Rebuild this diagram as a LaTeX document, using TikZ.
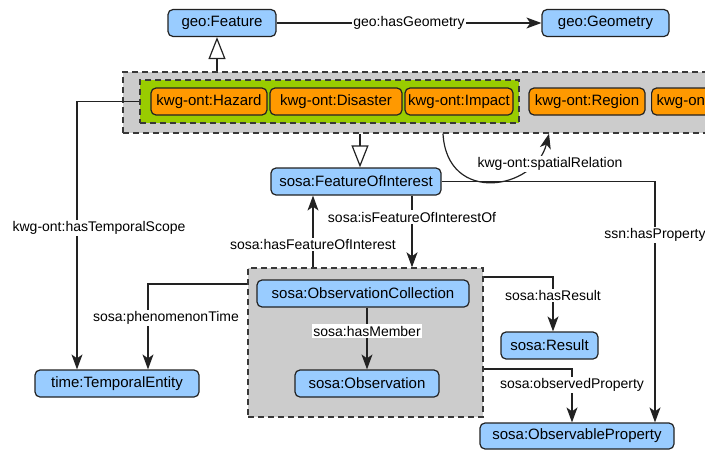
\documentclass[tikz,border=0pt]{standalone}
\usepackage{fontspec}
\setmainfont{Liberation Sans}
\usetikzlibrary{arrows.meta,positioning}
\definecolor{clsblue}{HTML}{99CCFF}
\definecolor{kwgorange}{HTML}{FF9900}
\definecolor{kwggreen}{HTML}{99CC00}
\definecolor{grpgray}{HTML}{CCCCCC}
\definecolor{edge}{HTML}{222222}
\tikzset{
  base/.style={rounded corners=5pt, draw=edge, line width=1.2pt, minimum height=27pt,
    inner sep=2pt, font=\fontsize{15}{18}\selectfont},
  cls/.style={base, fill=clsblue},
  kwg/.style={base, fill=kwgorange},
  grpbox/.style={draw=edge!90, line width=1.4pt, dash pattern=on 6pt off 4pt, fill=grpgray, inner sep=0pt},
  greenbox/.style={draw=edge!90, line width=1.4pt, dash pattern=on 6pt off 4pt, fill=kwggreen, inner sep=0pt},
  arr/.style={line width=1.2pt, draw=edge, -{Stealth[length=15pt,width=11pt,inset=4pt]}},
  inh/.style={line width=1.2pt, draw=edge, -{Triangle[open,length=22pt,width=17pt,fill=white]}},
  lbl/.style={fill=white, inner sep=1.5pt, font=\fontsize{14}{17}\selectfont, text=black},
}
\begin{document}
\begin{tikzpicture}[x=1pt,y=-1pt]
\useasboundingbox (0,0) rectangle (705,450);
\clip (0,0) rectangle (705,450);

% group frames
\node[grpbox, minimum width=607pt, minimum height=61pt] (grp) at (426.5,102.5) {};
\node[greenbox, minimum width=379pt, minimum height=43pt] (kwgset) at (329.5,101.5) {};
\node[grpbox, minimum width=235pt, minimum height=149pt] (grp2) at (365.5,342.5) {};

% classes
\node[cls, minimum width=108pt] (feat) at (222,23) {geo:Feature};
\node[cls, minimum width=127pt] (geom) at (605.5,23) {geo:Geometry};
\node[kwg, minimum width=116pt] (hazard) at (209,101.5) {kwg-ont:Hazard};
\node[kwg, minimum width=132pt] (disaster) at (336,101.5) {kwg-ont:Disaster};
\node[kwg, minimum width=108pt] (impact) at (459,101.5) {kwg-ont:Impact};
\node[kwg, minimum width=116pt] (region) at (587,101.5) {kwg-ont:Region};
\node[kwg, minimum width=110pt, anchor=west, align=left, text width=100pt] (more) at (651,101.5) {kwg-ont};
\node[cls, minimum width=170pt] (foi) at (356,181.5) {sosa:FeatureOfInterest};
\node[cls, minimum width=212pt] (coll) at (363,293.5) {sosa:ObservationCollection};
\node[cls, minimum width=144pt] (obs) at (367,383.5) {sosa:Observation};
\node[cls, minimum width=164pt] (te) at (117,383.5) {time:TemporalEntity};
\node[cls, minimum width=97pt] (result) at (549.5,345.5) {sosa:Result};
\node[cls, minimum width=194pt, minimum height=26pt] (oprop) at (577,436) {sosa:ObservableProperty};

% relations
\draw[arr] (feat) -- node[lbl]{geo:hasGeometry} (geom);
\draw[inh] ([xshift=-5pt]feat.south |- grp.north) -- ([xshift=-5pt]feat.south);
\draw[inh] ([xshift=4pt]foi.north |- grp.south) -- ([xshift=4pt]foi.north);
\draw[arr] ([xshift=16.5pt]grp.south) .. controls (447,205) and (535,190) .. ([xshift=122.5pt]grp.south);
\node[lbl] (srlbl) at (550,164) {kwg-ont:spatialRelation};
\draw[arr] (foi.east) -| node[lbl, pos=0.611]{ssn:hasProperty} ([xshift=78pt]oprop.north);
\draw[arr] (kwgset.west) -| node[lbl, pos=0.736, xshift=22pt]{kwg-ont:hasTemporalScope} ([xshift=-40pt]te.north);
\draw[arr] ([xshift=-52.5pt]grp2.north) -- node[lbl, pos=0.315]{sosa:hasFeatureOfInterest} ([xshift=-52.5pt]grp2.north |- foi.south);
\draw[arr] ([xshift=56pt]foi.south) -- node[lbl, pos=0.30]{sosa:isFeatureOfInterestOf} ([xshift=56pt]foi.south |- grp2.north);
\draw[arr] (obs.north |- coll.south) -- node[lbl, pos=0.38]{sosa:hasMember} (obs.north);
\draw[arr] ([yshift=58.5pt]grp2.west) -| node[lbl, pos=0.698, xshift=18pt]{sosa:phenomenonTime} ([xshift=31pt]te.north);
\draw[arr] ([yshift=65.5pt]grp2.east) -| node[lbl, pos=0.673]{sosa:hasResult} ([xshift=3.5pt]result.north);
\draw[arr] ([yshift=-26.5pt]grp2.east) -| node[lbl, pos=0.648]{sosa:observedProperty} ([xshift=-5pt]oprop.north);
\end{tikzpicture}
\end{document}
